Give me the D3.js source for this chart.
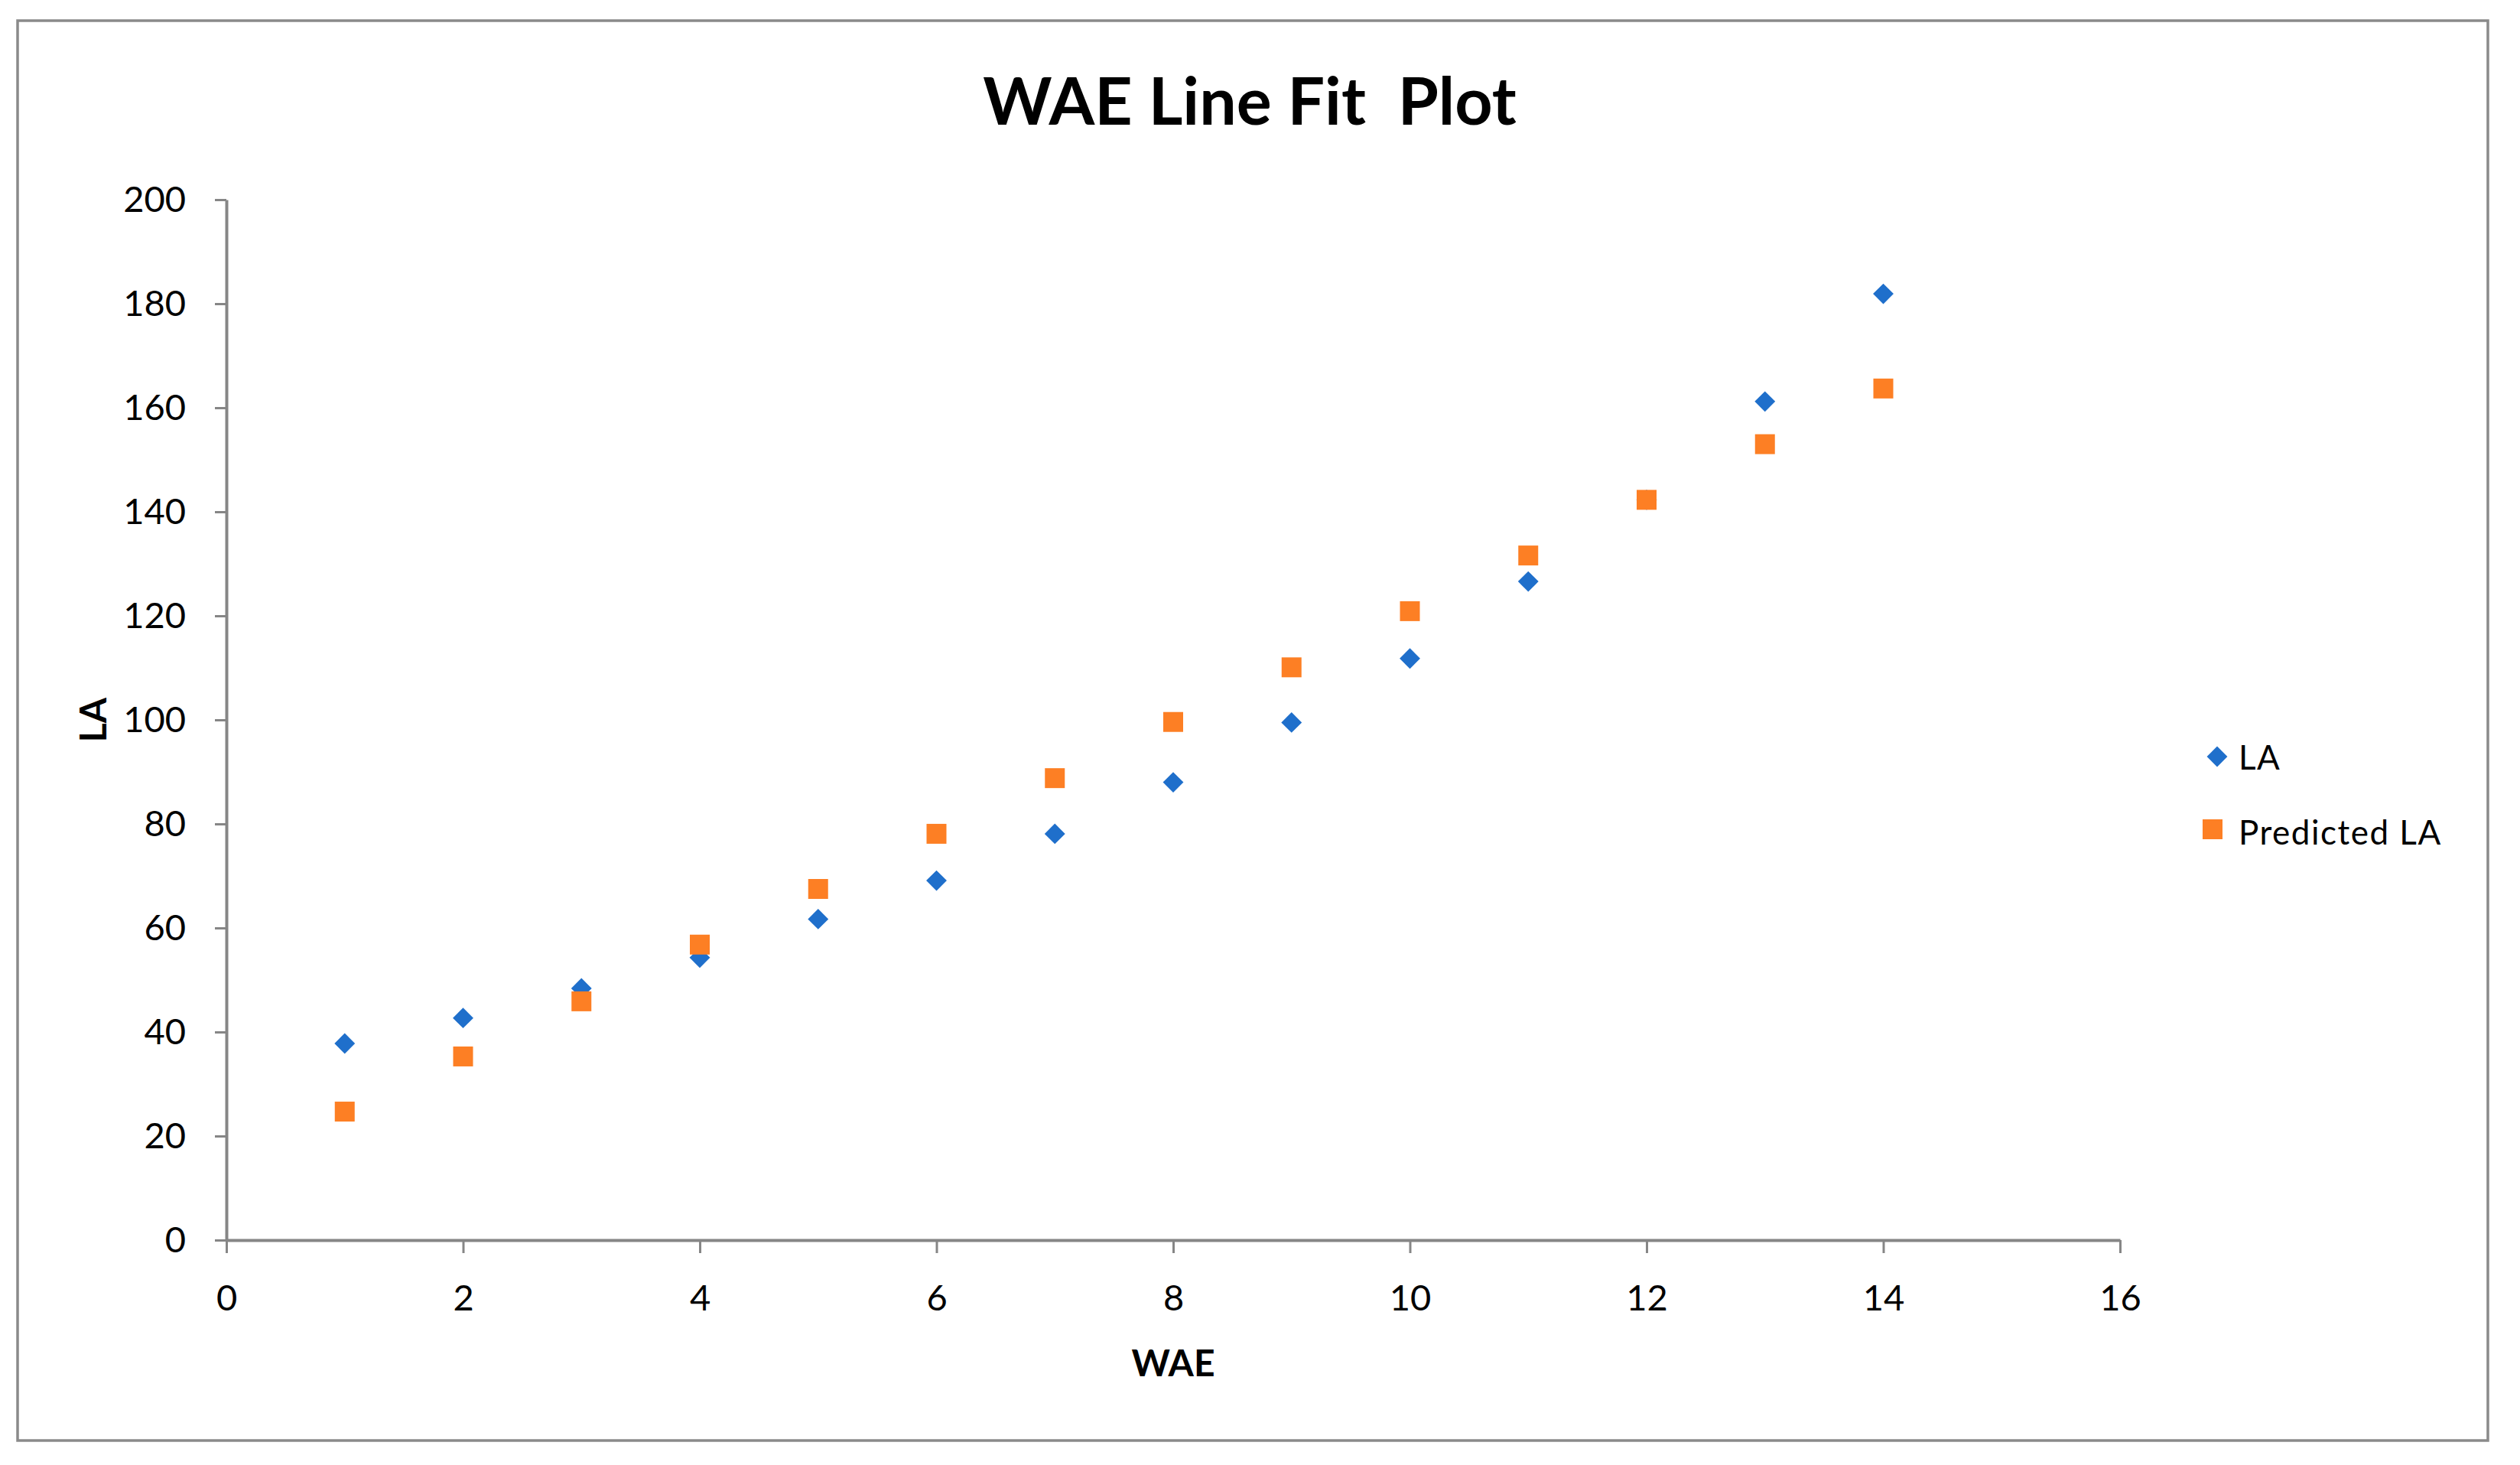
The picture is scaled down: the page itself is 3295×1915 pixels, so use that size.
<!DOCTYPE html>
<html>
<head>
<meta charset="utf-8">
<script src="https://cdn.jsdelivr.net/npm/d3@7"></script>
<style>
  html, body { margin: 0; padding: 0; background: #ffffff; }
  svg { display: block; }
</style>
</head>
<body>
<svg id="chart" width="3295" height="1915"></svg>
<script>
// ---- data ----
const wae = [1, 2, 3, 4, 5, 6, 7, 8, 9, 10, 11, 12, 13, 14];
const la = [37.8, 42.7, 48.4, 54.3, 61.7, 69.1, 78.1, 88.0, 99.5, 111.8, 126.6, 142.3, 161.2, 181.9];
const predictedLa = [24.7, 35.3, 45.9, 56.8, 67.5, 78.1, 88.8, 99.6, 110.1, 120.9, 131.6, 142.3, 153.0, 163.7];
const xTicks = [0, 2, 4, 6, 8, 10, 12, 14, 16];
const yTicks = [0, 20, 40, 60, 80, 100, 120, 140, 160, 180, 200];
const seriesNames = ["LA", "Predicted LA"];
const titleText = "WAE Line Fit\u00a0 Plot";
const xLabel = "WAE";
const yLabel = "LA";

// ---- layout ----
const W = 3295, H = 1915;
const plot = { left: 296, right: 2772, top: 261, bottom: 1621 };
const blue = "#1f6fcb", orange = "#fd7f24", axisGray = "#868686";
const font = "Lato, 'Open Sans', sans-serif";

const svg = d3.select("#chart");

// outer frame
svg.append("rect")
  .attr("x", 23).attr("y", 27).attr("width", 3230).attr("height", 1856)
  .attr("fill", "#ffffff").attr("stroke", "#8a8a8a").attr("stroke-width", 3.5);

const x = d3.scaleLinear().domain([0, 16]).range([plot.left, plot.right]);
const y = d3.scaleLinear().domain([0, 200]).range([plot.bottom, plot.top]);

// title
svg.append("text")
  .attr("x", 1634).attr("y", 163)
  .attr("text-anchor", "middle")
  .attr("font-family", font).attr("font-weight", 700).attr("font-size", 86)
  .attr("fill", "#000").text(titleText);

// y axis
const yAxis = svg.append("g")
  .attr("transform", `translate(${plot.left},0)`)
  .call(d3.axisLeft(y).tickValues(yTicks).tickSize(15).tickSizeOuter(0).tickPadding(38));
// x axis
const xAxis = svg.append("g")
  .attr("transform", `translate(0,${plot.bottom})`)
  .call(d3.axisBottom(x).tickValues(xTicks).tickSize(17).tickSizeOuter(0).tickPadding(42));

[yAxis, xAxis].forEach(g => {
  g.select(".domain").attr("stroke", axisGray).attr("stroke-width", 4);
  g.selectAll(".tick line").attr("stroke", axisGray).attr("stroke-width", 3);
  g.selectAll(".tick text").attr("font-family", font).attr("font-size", 47).attr("fill", "#000");
});

// axis labels
svg.append("text")
  .attr("x", (plot.left + plot.right) / 2).attr("y", 1799)
  .attr("text-anchor", "middle")
  .attr("font-family", font).attr("font-weight", 700).attr("font-size", 48)
  .text(xLabel);
svg.append("text")
  .attr("transform", `translate(139,${(plot.top + plot.bottom) / 2}) rotate(-90)`)
  .attr("text-anchor", "middle")
  .attr("font-family", font).attr("font-weight", 700).attr("font-size", 48)
  .text(yLabel);

// markers
const diamond = d3.symbol().type(d3.symbolSquare).size(19 * 19);
const square = d3.symbol().type(d3.symbolSquare).size(26 * 26);

svg.append("g").selectAll("path")
  .data(wae.map((d, i) => [d, la[i]]))
  .join("path")
  .attr("d", diamond)
  .attr("transform", d => `translate(${x(d[0])},${y(d[1])}) rotate(45)`)
  .attr("fill", blue);

svg.append("g").selectAll("path")
  .data(wae.map((d, i) => [d, predictedLa[i]]))
  .join("path")
  .attr("d", square)
  .attr("transform", d => `translate(${x(d[0])},${y(d[1])})`)
  .attr("fill", orange);

// legend
const legend = svg.append("g");
legend.append("path").attr("d", diamond)
  .attr("transform", "translate(2899,989) rotate(45)").attr("fill", blue);
legend.append("path").attr("d", square)
  .attr("transform", "translate(2893,1084)").attr("fill", orange);
legend.append("text").attr("x", 2927).attr("y", 1006)
  .attr("font-family", font).attr("font-size", 44).attr("letter-spacing", 1.5).text(seriesNames[0]);
legend.append("text").attr("x", 2927).attr("y", 1104)
  .attr("font-family", font).attr("font-size", 44).attr("letter-spacing", 1.5).text(seriesNames[1]);
</script>
</body>
</html>
